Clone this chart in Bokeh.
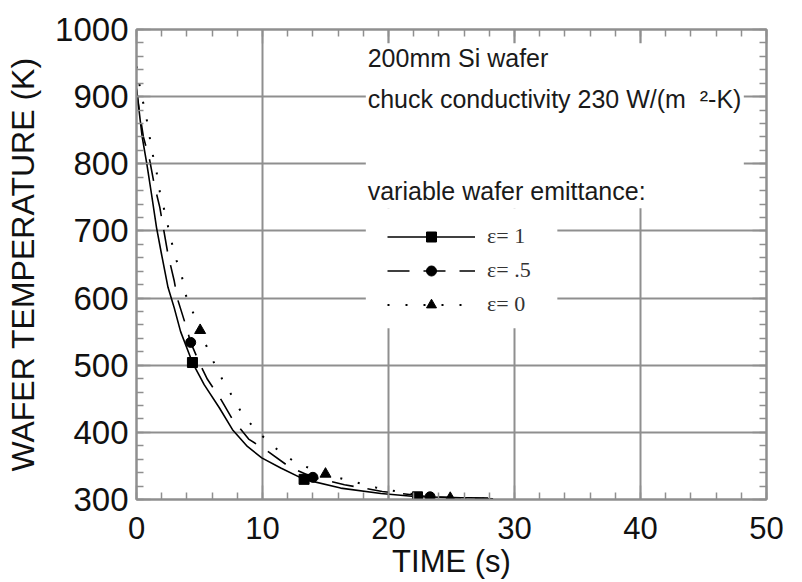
from bokeh.plotting import figure
from bokeh.models import (Legend, LegendItem, Label, BoxAnnotation, LinearAxis,
                          SingleIntervalTicker, Range1d, CustomJSTickFormatter)
from bokeh.embed import file_html
from bokeh.resources import INLINE

# ---------------- data ----------------
t_e1 = [0, 0.2, 0.45, 0.82, 1.19, 1.59, 1.98, 2.5, 3.0, 3.5, 4.44, 5.37, 6.56, 7.62,
        8.8, 9.94, 11.45, 13.3, 16.2, 19.4, 22.3, 25.0, 27.9]
T_e1 = [910, 880, 840, 800, 755, 705, 666, 616, 585, 550, 504, 471, 437, 404,
        379, 362, 347, 330, 317, 309, 304, 303, 302]

t_e05 = [0, 0.25, 0.55, 1.05, 1.4, 1.85, 2.5, 3.0, 3.25, 3.9, 4.3, 5.0, 5.63, 6.7,
         7.6, 8.9, 10.4, 12.1, 14.0, 16.5, 19.5, 23.3, 28.3]
T_e05 = [912, 875, 840, 805, 770, 735, 665, 625, 599, 560, 534, 503, 479, 449,
         420, 390, 372, 349, 333, 322, 312, 304, 301]

t_e0 = [0, 0.35, 0.71, 0.98, 1.24, 1.59, 1.88, 2.25, 2.7, 3.1, 3.57, 3.9, 4.5, 5.05,
        5.76, 6.6, 7.43, 8.41, 9.55, 11.2, 12.7, 15.0, 16.5, 19.0, 21.5, 24.9, 28.7]
T_e0 = [945, 905, 877, 847, 818, 788, 755, 728, 690, 660, 635, 605, 578, 552,
        519, 486, 459, 427, 402, 374, 354, 338, 330, 318, 309, 302, 301]

sq_t = [4.44, 13.3, 22.3]
sq_T = [504, 330, 304]
ci_t = [4.3, 14.0, 23.3]
ci_T = [534, 333, 304]
tr_t = [5.05, 15.0, 24.9]
tr_T = [552, 338, 302]

legend_labels = ["\u03b5= 1", "\u03b5= .5", "\u03b5= 0"]
x_title = "TIME (s)"
y_title = "WAFER TEMPERATURE (K)"
note1 = "200mm Si wafer"
note2 = "chuck conductivity 230 W/(m\u00a0\u00a0\u00b2-K)"
note3 = "variable wafer emittance:"

# ---------------- figure ----------------
GRID = "#8f8f8f"
SANS = "Liberation Sans"
SERIF = "Liberation Serif"

p = figure(width=802, height=582, x_range=Range1d(0, 50), y_range=Range1d(300, 1000),
           output_backend="svg", toolbar_location=None,
           min_border_left=136, min_border_right=36, min_border_top=29, min_border_bottom=83,
           x_axis_label=x_title, y_axis_label=y_title)
p.outline_line_color = GRID
p.outline_line_width = 2
p.background_fill_color = "white"
p.border_fill_color = "white"

bottom_ax = p.below[0]
left_ax = p.left[0]

xt = SingleIntervalTicker(interval=10, num_minor_ticks=5)
yt = SingleIntervalTicker(interval=100, num_minor_ticks=5)
bottom_ax.ticker = xt
left_ax.ticker = yt
p.xgrid.ticker = xt
p.ygrid.ticker = yt
for g in (p.xgrid, p.ygrid):
    g.grid_line_color = GRID
    g.grid_line_width = 2

top_ax = LinearAxis(ticker=xt, formatter=CustomJSTickFormatter(code="return ''"))
right_ax = LinearAxis(ticker=yt, formatter=CustomJSTickFormatter(code="return ''"))
p.add_layout(top_ax, "above")
p.add_layout(right_ax, "right")

for ax in (bottom_ax, left_ax, top_ax, right_ax):
    ax.axis_line_color = GRID
    ax.axis_line_width = 2
    ax.major_tick_line_color = GRID
    ax.minor_tick_line_color = GRID
    ax.major_tick_line_width = 1.5
    ax.minor_tick_line_width = 1.5
    ax.major_tick_in = 14
    ax.major_tick_out = 0
    ax.minor_tick_in = 7
    ax.minor_tick_out = 0
    ax.major_label_text_font = SANS
    ax.major_label_text_font_size = "31px"
    ax.major_label_text_color = "#111111"
    ax.axis_label_text_font = SANS
    ax.axis_label_text_font_size = "31px"
    ax.axis_label_text_font_style = "normal"
    ax.axis_label_text_color = "#111111"

left_ax.major_label_text_font_size = "33px"
left_ax.axis_label_text_font_size = "32px"
top_ax.major_label_standoff = 0
right_ax.major_label_standoff = 0
bottom_ax.major_label_standoff = 17
bottom_ax.axis_label_standoff = 2
left_ax.major_label_standoff = 8
left_ax.axis_label_standoff = 11

# ---------------- curves ----------------
l1 = p.line(t_e1, T_e1, line_color="black", line_width=1.6)
l2 = p.line(t_e05, T_e05, line_color="black", line_width=1.6, line_dash="22 14")
l3 = p.line(t_e0, T_e0, line_color="black", line_width=2, line_dash="2 16")
m1 = p.scatter(sq_t, sq_T, marker="square", size=10, color="black")
m2 = p.scatter(ci_t, ci_T, marker="circle", size=10, color="black")
m3 = p.scatter(tr_t, tr_T, marker="triangle", size=11, color="black")

# ---------------- white blocks behind the notes / legend ----------------
p.add_layout(BoxAnnotation(left=18.2, right=48.2, top=979.6, bottom=733.7,
                           fill_color="white", fill_alpha=1, line_color=None))
p.add_layout(BoxAnnotation(left=18.2, right=33.4, top=733.7, bottom=554.9,
                           fill_color="white", fill_alpha=1, line_color=None))

for txt, yy in ((note1, 957.5), (note2, 896.0), (note3, 760.0)):
    p.add_layout(Label(x=18.35, y=yy, text=txt, text_font=SANS, text_font_size="25px",
                       text_color="#1a1a1a", text_baseline="alphabetic"))

legend = Legend(items=[LegendItem(label=legend_labels[0], renderers=[l1, m1]),
                       LegendItem(label=legend_labels[1], renderers=[l2, m2]),
                       LegendItem(label=legend_labels[2], renderers=[l3, m3])],
                location=(251, 182), padding=0, margin=0, spacing=8,
                glyph_width=88, glyph_height=25, label_height=25, label_standoff=12,
                label_text_font=SERIF, label_text_font_size="22px",
                label_text_color="#333333",
                border_line_color=None, background_fill_alpha=0)
p.add_layout(legend)

open("out.html", "w").write(file_html(p, INLINE))
